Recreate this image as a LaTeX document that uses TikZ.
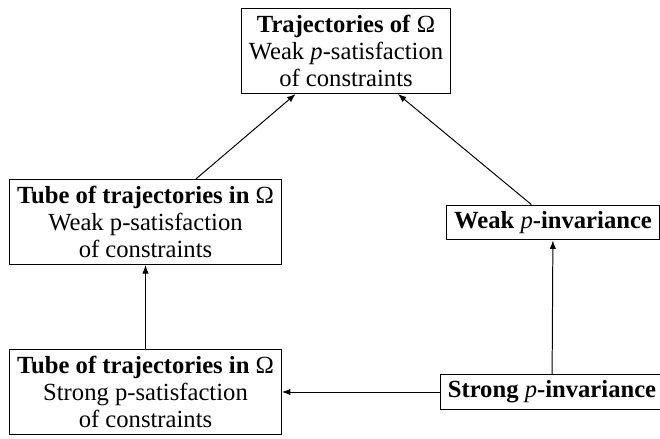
\documentclass[tikz,border=0pt]{standalone}
\usepackage{fontspec}
\setmainfont{Liberation Serif}
\usetikzlibrary{arrows.meta}
\begin{document}
\begin{tikzpicture}[x=0.4545pt,y=-0.4545pt,
  box/.style={draw,line width=0.5pt,align=center,inner xsep=3.33pt,inner ysep=2.8pt,font=\fontsize{11.2pt}{12.1pt}\selectfont},
  tall/.style={inner ysep=3.2pt},
  arr/.style={-{Latex[length=3.9pt,width=2.9pt]},line width=0.45pt}]
\useasboundingbox (0,0) rectangle (660,439);
\node[box,tall] (top) at (346,51) {\textbf{Trajectories of \textmd{Ω}}\\Weak \textit{p}-satisfaction\\of constraints};
\node[box,tall] (tw) at (145.5,222) {\textbf{Tube of trajectories in \textmd{Ω}}\\Weak p-satisfaction\\of constraints};
\node[box,tall] (ts) at (145.5,392) {\textbf{Tube of trajectories in \textmd{Ω}}\\Strong p-satisfaction\\of constraints};
\node[box] (wp) at (553,222.5) {\textbf{Weak \textmd{\textit{p}}-invariance}};
\node[box] (sp) at (552,392) {\textbf{Strong \textmd{\textit{p}}-invariance}};
\draw[arr] (tw) -- (top);
\draw[arr] (wp) -- (top);
\draw[arr] (ts) -- (tw);
\draw[arr] (sp) -- (wp);
\draw[arr] (sp) -- (ts);
\end{tikzpicture}
\end{document}
